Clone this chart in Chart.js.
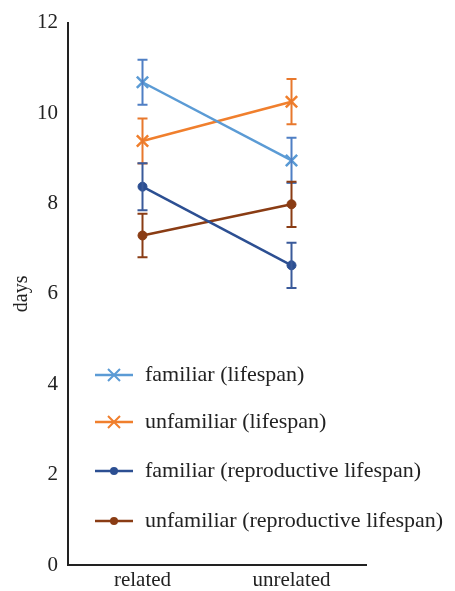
<!DOCTYPE html>
<html>
<head>
<meta charset="utf-8">
<script src="https://cdn.jsdelivr.net/npm/chart.js@4"></script>
<style>
  html, body { margin: 0; padding: 0; background: #fff; }
  #wrap { width: 455px; height: 591px; }
</style>
</head>
<body>
<div id="wrap"><canvas id="myChart" width="455" height="591"></canvas></div>
<script>
const categories = ['related', 'unrelated'];
const yTicks = [0, 2, 4, 6, 8, 10, 12];

const famLife = [10.68, 8.95];
const famLifeErr = [0.5, 0.5];
const unfamLife = [9.38, 10.25];
const unfamLifeErr = [0.5, 0.5];
const famRepro = [8.37, 6.63];
const famReproErr = [0.52, 0.5];
const unfamRepro = [7.29, 7.98];
const unfamReproErr = [0.48, 0.5];

const serif = '"Liberation Serif", "DejaVu Serif", serif';

// error bars drawn from the y scale
const errorBars = {
  id: 'errorBars',
  afterDatasetsDraw(chart) {
    const c = chart.ctx;
    const y = chart.scales.y;
    chart.data.datasets.forEach((ds, i) => {
      const meta = chart.getDatasetMeta(i);
      c.save();
      c.strokeStyle = ds.errColor;
      c.lineWidth = 2;
      meta.data.forEach((pt, j) => {
        const top = y.getPixelForValue(ds.data[j] + ds.err[j]);
        const bot = y.getPixelForValue(ds.data[j] - ds.err[j]);
        c.beginPath();
        c.moveTo(pt.x, top); c.lineTo(pt.x, bot);
        c.moveTo(pt.x - 5, top); c.lineTo(pt.x + 5, top);
        c.moveTo(pt.x - 5, bot); c.lineTo(pt.x + 5, bot);
        c.stroke();
      });
      c.restore();
    });
  }
};

// legend inside the plot area
const innerLegend = {
  id: 'innerLegend',
  afterDraw(chart) {
    const c = chart.ctx;
    const rows = [375, 422, 471, 521];
    c.save();
    chart.data.datasets.forEach((ds, i) => {
      const yy = rows[i];
      c.strokeStyle = ds.borderColor;
      c.lineWidth = 2.5;
      c.beginPath();
      c.moveTo(95, yy); c.lineTo(133, yy);
      c.stroke();
      if (ds.pointStyle === 'crossRot') {
        c.lineWidth = 2;
        c.beginPath();
        c.moveTo(108, yy - 6); c.lineTo(120, yy + 6);
        c.moveTo(108, yy + 6); c.lineTo(120, yy - 6);
        c.stroke();
      } else {
        c.fillStyle = ds.borderColor;
        c.beginPath();
        c.arc(114, yy, 4, 0, Math.PI * 2);
        c.fill();
      }
      c.fillStyle = '#222';
      c.font = '22px ' + serif;
      c.textBaseline = 'middle';
      c.fillText(ds.label, 145, yy);
    });
    c.restore();
  }
};

function series(label, data, err, color, errColor, style) {
  return {
    label: label,
    data: data,
    err: err,
    borderColor: color,
    backgroundColor: color,
    errColor: errColor,
    borderWidth: 2.5,
    pointStyle: style,
    pointRadius: style === 'crossRot' ? 8 : 4.5,
    pointBorderWidth: style === 'crossRot' ? 2.5 : 1,
    tension: 0
  };
}

const ctx = document.getElementById('myChart').getContext('2d');
const myChart = new Chart(ctx, {
  type: 'line',
  data: {
    labels: categories,
    datasets: [
      series('familiar (lifespan)', famLife, famLifeErr, '#5b9bd5', '#4f7fc4', 'crossRot'),
      series('unfamiliar (lifespan)', unfamLife, unfamLifeErr, '#f07f2d', '#e8782c', 'crossRot'),
      series('familiar (reproductive lifespan)', famRepro, famReproErr, '#2c4f92', '#3a5a9a', 'circle'),
      series('unfamiliar (reproductive lifespan)', unfamRepro, unfamReproErr, '#8a3c14', '#8a3c14', 'circle')
    ]
  },
  options: {
    responsive: false,
    animation: false,
    layout: { padding: { left: 0, right: 89, top: 22, bottom: 0 } },
    plugins: {
      legend: { display: false },
      tooltip: { enabled: false }
    },
    scales: {
      x: {
        offset: true,
        grid: { display: false, drawTicks: false },
        border: { display: true, color: '#222', width: 2 },
        ticks: { color: '#222', font: { family: serif, size: 21 }, padding: 3 },
        afterFit: (s) => { s.height = 26; }
      },
      y: {
        min: 0,
        max: 12,
        afterBuildTicks: (s) => { s.ticks = yTicks.map(v => ({ value: v })); },
        grid: { display: false, drawTicks: false },
        border: { display: true, color: '#222', width: 2 },
        ticks: { color: '#222', font: { family: serif, size: 21 }, padding: 10 },
        title: { display: true, text: 'days', color: '#222', font: { family: serif, size: 20 }, padding: { top: 10, bottom: 0 } },
        afterFit: (s) => { s.width = 68; }
      }
    }
  },
  plugins: [errorBars, innerLegend]
});
</script>
</body>
</html>
